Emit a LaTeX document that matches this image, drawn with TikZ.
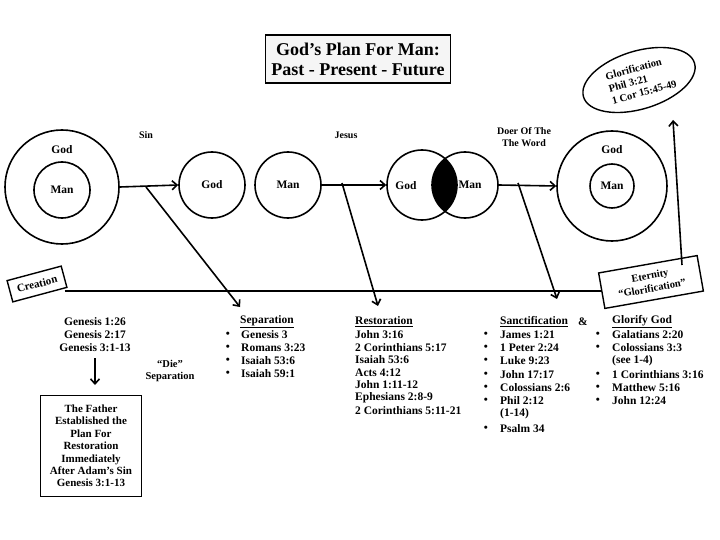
\documentclass[tikz,border=0pt]{standalone}
\usepackage{fontspec}
\setmainfont{Liberation Serif}
\usetikzlibrary{arrows.meta,shapes.geometric}
\begin{document}
\begin{tikzpicture}[x=1pt,y=-1pt,
  every node/.style={font=\bfseries\fontsize{11.5}{13}\selectfont},
  circ/.style={draw,line width=1.6pt,circle,inner sep=0pt},
  arr/.style={line width=1.6pt,-{Straight Barb[length=5pt,width=9pt]}},
  lbl/.style={font=\bfseries\fontsize{10}{12}\selectfont,align=center},
  txt/.style={anchor=west,inner sep=0pt},
  bul/.style={inner sep=0pt}]
\useasboundingbox (0,0) rectangle (720,540);
% title
\node[draw,line width=1.4pt,fill=gray!8,minimum width=185pt,minimum height=48pt,align=center,font=\bfseries\fontsize{18}{20}\selectfont] (title) at (358,59) {God’s Plan For Man:\\Past - Present - Future};
% circles
\node[circ,minimum size=114pt] (c1) at (62,187) {};
\node[circ,minimum size=56pt] (c1i) at (62,190) {};
\node (g1) at (62,150) {God};
\node (m1) at (62,190) {Man};
\node[circ,minimum size=66pt] (c2) at (212,185) {};
\node (g2) at (212,185) {God};
\node[circ,minimum size=66pt] (c3) at (288,185) {};
\node (m3) at (288,185) {Man};
\node[circ,minimum size=70pt] (vl) at (422,185) {};
\node[circ,minimum size=66pt] (vr) at (465,185) {};
\begin{scope}
\clip (422,185) circle (35);
\fill (465,185) circle (33);
\end{scope}
\node (g4) at (406,186) {God};
\node (m4) at (470,185) {Man};
\node[circ,minimum size=110pt] (c5) at (612,186) {};
\node[circ,minimum size=44pt] (c5i) at (612,186) {};
\node (g5) at (612,150) {God};
\node (m5) at (612,186) {Man};
% labels
\node[lbl] (sin) at (146,135) {Sin};
\node[lbl] (jesus) at (346,135) {Jesus};
\node[lbl] (doer) at (524,137) {Doer Of The\\The Word};
% arrows
\coordinate (a1s) at (146,187);
\coordinate (a2s) at (342,183);
\coordinate (a3s) at (518,183);
\draw[arr] (c1.east) -- (c2.west);
\draw[arr] (c3.east) -- (vl.west);
\draw[arr] (vr.east) -- (c5.west);
% ellipse
\node[draw,line width=1.4pt,ellipse,minimum width=116pt,minimum height=58pt,rotate=17] (glor) at (639,80) {};
\node[rotate=15,align=left,font=\bfseries\fontsize{10.5}{12.5}\selectfont] (gt) at (641,80) {Glorification\\Phil 3:21\\1 Cor 15:45-49};
% timeline boxes
\node[draw,line width=1.4pt,rotate=15,minimum width=56pt,minimum height=22pt,font=\bfseries\fontsize{11}{13}\selectfont] (cre) at (37,284) {Creation};
\node[draw,line width=1.4pt,rotate=10,minimum width=100pt,minimum height=36pt,align=center,font=\bfseries\fontsize{10.5}{13}\selectfont] (eter) at (651,282) {Eternity\\“Glorification”};
\draw[line width=1.4pt] (cre.east |- 0,291) -- (eter.west |- 0,291);
\coordinate (up0) at (682,265);
\coordinate (up1) at (673,120);
\draw[arr] (up0) -- (up1);
% headers
\node[inner sep=0pt] (sephd) at (267,322) {\underline{Separation}};
\node[anchor=west,inner sep=0pt] (reshd) at (355,322) {\underline{Restoration}};
\node[anchor=west,inner sep=0pt] (sanhd) at (500,322) {\underline{Sanctification}};
\node[inner sep=0pt] (amp) at (583,322) {\&};
\node[anchor=west,inner sep=0pt] (glhd) at (612,322) {\underline{Glorify God}};
\draw[arr] (a1s) -- (240,307);
\draw[arr] (a2s) -- (378,306);
\draw[arr] (a3s) -- (557,299);
% genesis
\node[align=center,inner sep=0pt] (gen) at (95,335) {Genesis 1:26\\Genesis 2:17\\Genesis 3:1-13};
\node[draw,line width=1.6pt,minimum width=101pt,minimum height=101pt,align=center,font=\bfseries\fontsize{11}{12.4}\selectfont] (fath) at (91,446) {The Father\\Established the\\Plan For\\Restoration\\Immediately\\After Adam’s Sin\\Genesis 3:1-13};
\coordinate (gd) at (95,358);
\coordinate (gd2) at (95,385);
\draw[arr] (gd) -- (gd2);
\node[align=center,font=\bfseries\fontsize{10.5}{12}\selectfont] (die) at (170,371) {“Die”\\Separation};
% separation list
\foreach \t [count=\i] in {Genesis 3,Romans 3:23,Isaiah 53:6,Isaiah 59:1}{
  \node[bul] at (228,322+13*\i) {\textbullet};
  \node[txt] at (241,322+13*\i) {\t};}
% restoration
\foreach \t [count=\i] in {John 3:16,2 Corinthians 5:17,Isaiah 53:6,Acts 4:12,John 1:11-12,Ephesians 2:8-9,2 Corinthians 5:11-21}{
  \node[txt] at (355,322+12.6*\i) {\t};}
% sanctification
\foreach \t/\y in {James 1:21/335,1 Peter 2:24/348,Luke 9:23/361,John 17:17/375,Colossians 2:6/388,Phil 2:12/401,Psalm 34/429}{
  \node[bul] at (486,\y) {\textbullet};
  \node[txt] at (500,\y) {\t};}
\node[txt] at (500,414) {(1-14)};
% glorify
\foreach \t/\y in {Galatians 2:20/335,Colossians 3:3/348,1 Corinthians 3:16/375,Matthew 5:16/388,John 12:24/401}{
  \node[bul] at (598,\y) {\textbullet};
  \node[txt] at (612,\y) {\t};}
\node[txt] at (612,361) {(see 1-4)};
\end{tikzpicture}
\end{document}
